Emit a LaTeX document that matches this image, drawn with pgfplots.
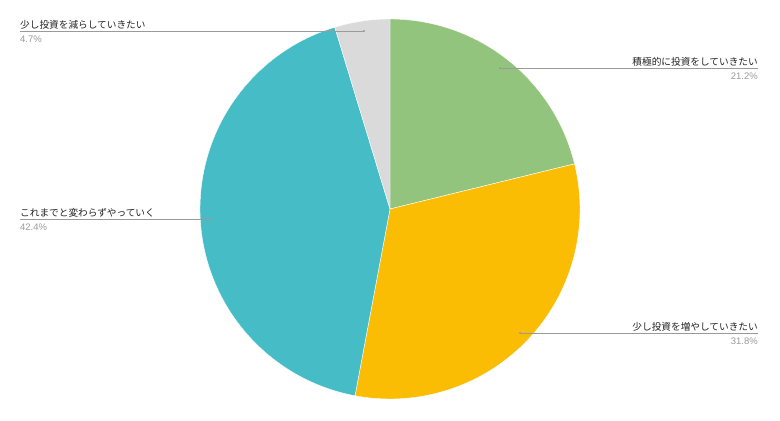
\documentclass[border=0pt]{standalone}
\usepackage{pgfplots}
\pgfplotsset{compat=1.18}
\usepackage{fontspec}
\setmainfont{Liberation Sans}
\newfontfamily\jp{Noto Sans CJK JP}
\definecolor{cgreen}{HTML}{93C47D}
\definecolor{cyellow}{HTML}{FBBC04}
\definecolor{cteal}{HTML}{46BDC6}
\definecolor{cgray}{HTML}{DADADA}
\definecolor{tdark}{HTML}{222222}
\definecolor{tgray}{HTML}{999999}
\definecolor{lgray}{HTML}{9A9A9A}
\begin{document}
\begin{tikzpicture}
% values (percent)
\def\vA{21.2}\def\vB{31.8}\def\vC{42.4}\def\vD{4.7}
\pgfmathsetmacro\tot{\vA+\vB+\vC+\vD}
\pgfmathsetmacro\aA{90}
\pgfmathsetmacro\aB{\aA-360*\vA/\tot}
\pgfmathsetmacro\aC{\aB-360*\vB/\tot}
\pgfmathsetmacro\aD{\aC-360*\vC/\tot}
\pgfmathsetmacro\aE{\aD-360*\vD/\tot}
\def\cx{390}\def\cy{211}\def\rr{190}
\begin{axis}[scale only axis, width=780bp, height=420bp,
  xmin=0, xmax=780, ymin=0, ymax=420, hide axis, clip=false]
\path (axis cs:0,0) -- (axis cs:780,420);
\addplot[fill=cgreen, draw=white, line width=0.4pt, domain=\aB:\aA, samples=80, variable=\t]
  ({\cx+\rr*cos(\t)},{\cy+\rr*sin(\t)}) -- (axis cs:\cx,\cy) -- cycle;
\addplot[fill=cyellow, draw=white, line width=0.4pt, domain=\aC:\aB, samples=100, variable=\t]
  ({\cx+\rr*cos(\t)},{\cy+\rr*sin(\t)}) -- (axis cs:\cx,\cy) -- cycle;
\addplot[fill=cteal, draw=white, line width=0.4pt, domain=\aD:\aC, samples=120, variable=\t]
  ({\cx+\rr*cos(\t)},{\cy+\rr*sin(\t)}) -- (axis cs:\cx,\cy) -- cycle;
\addplot[fill=cgray, draw=white, line width=0.4pt, domain=\aE:\aD, samples=30, variable=\t]
  ({\cx+\rr*cos(\t)},{\cy+\rr*sin(\t)}) -- (axis cs:\cx,\cy) -- cycle;

% leader lines
\draw[lgray, line width=0.6pt] (axis cs:20,389) -- (axis cs:364,389);
\fill[lgray] (axis cs:364,389) circle (1.2bp);
\draw[lgray, line width=0.6pt] (axis cs:500,352) -- (axis cs:758,352);
\fill[lgray] (axis cs:500,352) circle (1.2bp);
\draw[lgray, line width=0.6pt] (axis cs:20,201) -- (axis cs:210,201);
\fill[lgray] (axis cs:210,201) circle (1.2bp);
\draw[lgray, line width=0.6pt] (axis cs:520,87) -- (axis cs:758,87);
\fill[lgray] (axis cs:520,87) circle (1.2bp);

% labels
\tikzset{lab/.style={inner sep=0pt, text=tdark, font=\jp\fontsize{9.7}{11}\selectfont},
         pct/.style={inner sep=0pt, text=tgray, font=\fontsize{9.5}{11}\selectfont}}
\node[lab, anchor=base west] at (axis cs:20,391.5) {少し投資を減らしていきたい};
\node[pct, anchor=base west] at (axis cs:20,378) {4.7\%};
\node[lab, anchor=base east] at (axis cs:758,354.5) {積極的に投資をしていきたい};
\node[pct, anchor=base east] at (axis cs:758,341) {21.2\%};
\node[lab, anchor=base west] at (axis cs:20,203.5) {これまでと変わらずやっていく};
\node[pct, anchor=base west] at (axis cs:20,190) {42.4\%};
\node[lab, anchor=base east] at (axis cs:758,89.5) {少し投資を増やしていきたい};
\node[pct, anchor=base east] at (axis cs:758,76) {31.8\%};
\end{axis}
\end{tikzpicture}
\end{document}
